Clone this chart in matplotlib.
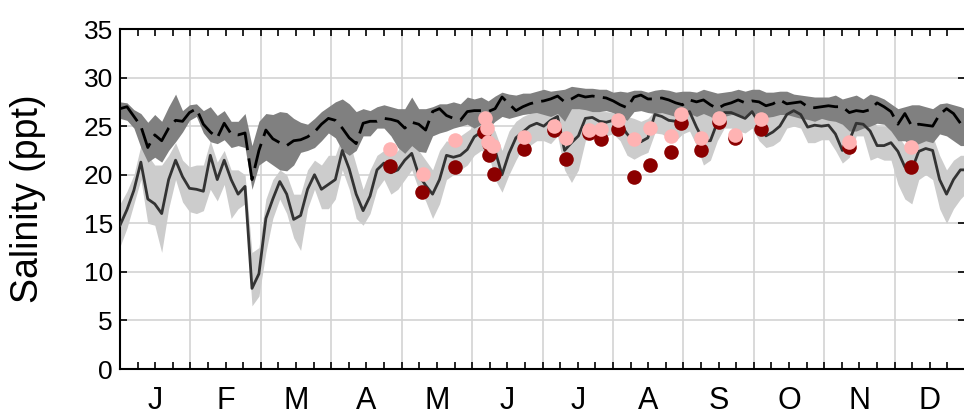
import numpy as np
import matplotlib
matplotlib.use("Agg")
import matplotlib.pyplot as plt

plt.rcParams["font.family"] = ["Liberation Sans", "DejaVu Sans"]

months = ["J", "F", "M", "A", "M", "J", "J", "A", "S", "O", "N", "D"]

# day of year, every 3 days
days = np.r_[np.arange(0, 364, 3), 365]

# upper (dark) band and its mean line
upper_hi = [27.5, 27.4, 26.7, 26.3, 25.4, 26.2, 25.5, 27.0, 28.3, 26.6, 27.2, 27.3, 26.6, 27.0, 26.1, 26.6, 25.5, 25.5, 26.3, 23.0,
            25.5, 26.3, 26.2, 26.5, 26.4, 25.8, 25.4, 25.2, 25.8, 26.5, 27.0, 27.5, 27.8, 27.3, 26.5, 26.8, 26.6, 27.0, 27.2, 27.0, 26.8,
            26.8, 28.0, 26.8, 26.8, 27.0, 27.3, 27.3, 27.5, 27.3, 28.0, 27.8, 28.0, 27.6, 28.1, 28.5, 28.3, 28.2, 28.4, 28.4, 28.6,
            28.8, 28.6, 28.7, 28.8, 29.1, 29.0, 28.9, 28.9, 28.8, 28.8, 28.5, 28.6, 28.5, 28.7, 28.7, 28.5, 28.7, 28.8, 28.7, 28.5,
            28.6, 28.6, 28.5, 28.8, 28.6, 28.4, 28.5, 28.6, 28.8, 28.6, 28.8, 28.8, 28.5, 28.5, 28.6, 28.6, 28.3, 28.2, 28.1, 28.0,
            28.0, 28.0, 28.2, 27.8, 28.0, 28.2, 27.8, 28.3, 28.1, 27.8, 27.3, 26.8, 27.0, 27.2, 27.2, 27.0, 26.8, 27.3, 27.4, 27.2, 27.0, 26.8]
upper_lo = [25.8, 25.6, 24.8, 22.8, 21.3, 21.8, 21.3, 22.5, 23.4, 24.4, 25.6, 26.0, 24.3, 23.4, 23.2, 23.6, 22.8, 23.0, 22.8, 18.5,
            21.0, 21.5, 21.0, 20.5, 20.4, 21.0, 22.3, 22.5, 22.8, 23.5, 24.3, 23.8, 22.5, 22.0, 22.5, 24.0, 24.0, 24.8, 24.8, 24.0, 22.8,
            22.2, 23.0, 22.4, 22.3, 24.0, 24.3, 24.5, 24.8, 25.0, 25.2, 24.8, 25.2, 24.8, 25.5, 26.0, 25.8, 26.0, 26.2, 26.3, 26.4,
            26.2, 26.0, 26.3, 25.5, 26.8, 26.8, 26.7, 26.5, 26.5, 26.6, 26.4, 26.0, 25.6, 26.5, 26.6, 26.4, 26.3, 26.4, 26.2, 26.0,
            26.0, 26.3, 26.0, 26.3, 26.0, 25.5, 26.0, 26.2, 26.2, 26.0, 26.4, 26.1, 25.9, 26.0, 26.2, 26.2, 26.0, 25.8, 25.7, 25.5,
            25.8, 25.6, 25.5, 25.2, 24.5, 24.5, 24.8, 25.0, 25.3, 25.2, 24.5, 23.5, 23.5, 23.0, 23.2, 23.5, 23.3, 24.2, 24.0, 23.5, 23.0, 23.0]
upper_mean = [26.8, 27.0, 26.0, 25.0, 22.8, 24.1, 23.5, 24.8, 25.6, 25.5, 26.4, 26.8, 25.2, 24.4, 23.8, 25.3, 24.2, 24.1, 24.3, 19.5,
              22.5, 24.6, 23.7, 23.3, 23.0, 23.5, 23.6, 23.9, 24.4, 25.2, 25.8, 25.6, 24.8, 23.8, 23.2, 25.3, 25.5, 25.5, 25.8, 25.7, 25.5,
              24.8, 25.4, 25.2, 24.6, 26.5, 26.8, 26.1, 25.8, 25.6, 26.5, 26.6, 26.6, 26.5, 26.8, 28.0, 27.3, 26.6, 27.0, 27.3, 27.5,
              27.6, 27.8, 28.1, 27.5, 27.8, 28.2, 28.0, 28.1, 28.0, 27.9, 27.6, 27.2, 26.9, 28.0, 28.2, 27.8, 27.8, 27.9, 27.7, 27.4,
              27.2, 27.7, 27.5, 27.7, 27.2, 26.8, 27.2, 27.4, 27.7, 27.4, 27.6, 27.5, 27.1, 27.3, 27.7, 27.3, 27.4, 27.5, 27.0, 26.9,
              27.0, 27.1, 27.0, 27.0, 26.4, 26.6, 26.5, 26.7, 27.4, 27.0, 26.5, 25.2, 26.3, 25.0, 25.2, 25.1, 25.0, 26.2, 26.8, 26.3, 25.3, 25.0]

# lower (light) band and its mean line
lower_hi = [17.0, 18.3, 20.0, 23.0, 22.0, 21.0, 21.0, 22.0, 23.3, 21.5, 20.8, 21.0, 21.0, 23.5, 21.3, 22.5, 20.5, 20.5, 20.0, 12.0,
            12.5, 17.5, 19.5, 20.5, 20.0, 18.0, 18.0, 20.5, 21.5, 21.0, 22.0, 22.0, 24.0, 23.5, 21.0, 18.5, 20.5, 22.0, 22.5, 22.0, 22.5,
            24.0, 23.8, 22.5, 21.5, 20.5, 22.5, 23.5, 23.2, 24.0, 24.5, 25.0, 25.3, 25.4, 24.5, 22.5, 24.5, 25.5, 26.0, 26.3, 26.4,
            26.5, 26.7, 27.0, 27.2, 27.1, 26.8, 26.8, 26.8, 26.5, 26.5, 26.4, 26.2, 26.0, 25.8, 25.5, 25.8, 26.6, 26.8, 26.5, 26.5,
            26.8, 27.0, 26.5, 26.3, 26.3, 26.6, 27.0, 27.1, 27.0, 26.7, 27.2, 26.6, 26.2, 26.3, 26.5, 27.0, 27.1, 27.0, 26.2, 26.2,
            26.0, 26.0, 25.7, 25.5, 25.5, 26.0, 26.0, 25.8, 25.0, 25.0, 24.9, 24.0, 23.0, 22.5, 24.0, 24.5, 24.0, 22.0, 20.5, 21.5, 22.0, 22.0]
lower_lo = [12.6, 14.5, 17.0, 19.5, 15.0, 14.8, 12.0, 16.5, 19.5, 17.2, 16.2, 16.0, 16.3, 18.5, 17.3, 19.0, 15.5, 16.5, 17.0, 6.5,
            7.5, 12.0, 15.5, 17.5, 16.0, 13.5, 12.2, 16.5, 18.5, 16.5, 16.5, 17.5, 20.5, 18.5, 15.5, 14.8, 16.0, 18.5, 19.5, 18.0, 18.5,
            19.5, 20.5, 18.5, 17.3, 15.5, 17.0, 19.5, 20.0, 20.5, 21.0, 22.0, 22.5, 22.3, 19.5, 18.2, 20.0, 21.5, 22.8, 23.0, 23.5,
            23.5, 23.2, 24.0, 20.5, 19.2, 20.5, 23.5, 24.0, 24.2, 24.0, 24.2, 23.5, 22.0, 21.6, 22.0, 22.3, 24.3, 24.2, 23.8, 23.5,
            24.2, 24.5, 23.0, 21.0, 21.5, 23.5, 24.8, 24.8, 24.5, 24.3, 24.8, 23.5, 22.8, 23.0, 23.5, 24.8, 25.0, 24.8, 23.3, 23.3,
            23.6, 23.6, 22.5, 21.2, 21.8, 24.0, 24.0, 21.5, 21.8, 21.5, 21.5, 19.0, 17.5, 17.0, 19.5, 20.0, 19.5, 16.5, 15.0, 16.5, 17.5, 18.0]
lower_mean = [14.8, 16.4, 18.4, 21.3, 17.5, 17.0, 16.0, 19.5, 21.5, 19.8, 18.6, 18.5, 18.3, 22.0, 19.5, 21.5, 19.5, 18.0, 18.8, 8.3,
              9.8, 15.5, 17.5, 19.3, 18.0, 15.4, 15.8, 18.5, 20.0, 18.5, 19.0, 19.5, 22.5, 20.6, 18.0, 16.3, 17.8, 20.5, 21.2, 20.2, 20.5,
              21.5, 22.2, 20.0, 18.9, 18.0, 19.5, 22.0, 21.8, 22.0, 22.6, 23.9, 24.4, 24.0, 22.5, 20.0, 22.2, 23.8, 24.4, 25.0, 25.3,
              25.0, 25.6, 26.0, 22.5, 23.3, 24.0, 25.8, 25.9, 25.5, 25.4, 25.6, 25.3, 24.2, 23.5, 23.4, 23.8, 26.2, 26.0, 25.6, 25.5,
              26.1, 26.5, 24.9, 23.5, 23.5, 25.4, 26.4, 26.4, 26.1, 25.8, 26.5, 25.3, 24.0, 24.4, 25.0, 26.2, 26.6, 26.2, 24.9, 25.1,
              25.0, 25.1, 24.2, 22.5, 23.5, 25.3, 25.2, 24.5, 23.0, 23.0, 23.3, 22.4, 20.8, 20.5, 22.4, 22.7, 22.5, 19.5, 18.0, 19.5, 20.5, 20.5]

# sampled points
red_days = [116.6, 130.6, 144.7, 157.0, 159.2, 159.5, 161.6, 174.5, 187.5, 192.8, 202.5, 207.7, 214.9, 221.9, 228.8, 237.9,
            242.5, 250.8, 258.6, 265.8, 276.7, 314.7, 341.8]
red_vals = [20.9, 18.2, 20.8, 24.4, 23.2, 22.0, 20.1, 22.7, 24.6, 21.6, 24.3, 23.7, 24.7, 19.8, 21.0, 22.3,
            25.3, 22.5, 25.4, 23.8, 24.7, 22.9, 20.8]
pink_days = [116.6, 130.7, 144.7, 157.7, 158.7, 159.1, 161.0, 174.5, 187.5, 192.8, 202.5, 207.7, 214.9, 221.9, 228.8, 237.9,
             242.5, 250.8, 258.6, 265.8, 276.7, 314.7, 341.8]
pink_vals = [22.7, 20.1, 23.6, 25.8, 24.8, 23.4, 23.0, 23.9, 25.0, 23.8, 24.6, 24.7, 25.6, 23.7, 24.8, 24.0,
             26.3, 23.8, 25.8, 24.1, 25.7, 23.4, 22.9]

fig = plt.figure(figsize=(9.64, 4.17), dpi=100)
ax = fig.add_axes([0.1245, 0.1151, 0.8766, 0.8153])

ax.fill_between(days, lower_lo, lower_hi, color="#cccccc", lw=0, zorder=1)
ax.fill_between(days, upper_lo, upper_hi, color="#808080", lw=0, zorder=2)
ax.plot(days, lower_mean, color="#333333", lw=2, zorder=3)
ax.plot(days, upper_mean, color="black", lw=2, dashes=(9, 3), zorder=4)
ax.scatter(red_days, red_vals, s=110, color="#8b0000", lw=0, zorder=5)
ax.scatter(pink_days, pink_vals, s=110, color="#ffb3b3", lw=0, zorder=6)

month_edges = np.linspace(0, 365, 13)
quarters = np.linspace(0, 365, 49)
for e in month_edges[1:-1]:
    ax.axvline(e, color="#d3d3d3", lw=1.2, zorder=0)
ax.yaxis.grid(True, color="#d3d3d3", lw=1.2, zorder=0)
ax.set_axisbelow(True)

xlabels = ["" for _ in quarters]
for i, m in enumerate(months):
    xlabels[4 * i + 2] = m
ax.set_xticks(quarters, xlabels)
ax.set_yticks(np.arange(0, 36, 5))
ax.set_xlim(0, 365)
ax.set_ylim(0, 35)

ax.tick_params(direction="in", top=True, right=True, length=5, width=1.2, color="black")
ax.tick_params(axis="x", labelsize=22, pad=12)
ax.tick_params(axis="y", labelsize=19, pad=5)
for s in ax.spines.values():
    s.set_linewidth(1.5)

ax.set_ylabel("Salinity (ppt)", fontsize=27)
ax.yaxis.set_label_coords(-0.087, 0.5)

fig.savefig("out.png", dpi=100)
